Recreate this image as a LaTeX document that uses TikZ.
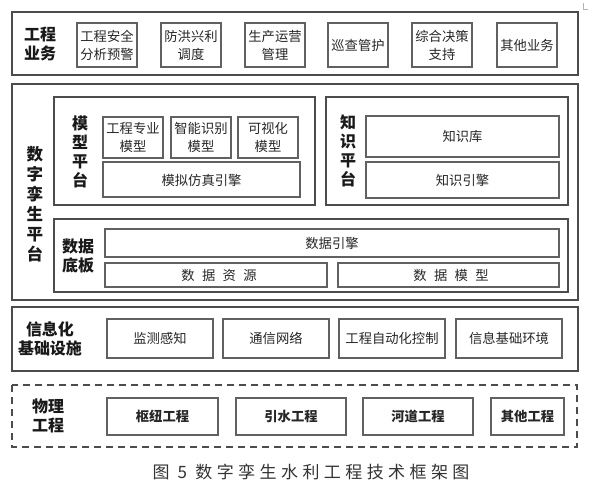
\documentclass[tikz,border=0pt]{standalone}
\usepackage{fontspec}
\setmainfont{Noto Sans CJK SC}
\newfontfamily\capfont[LetterSpace=26]{Noto Sans CJK SC}
\newfontfamily\spfont[LetterSpace=55]{Noto Sans CJK SC}
\definecolor{bx}{rgb}{0.38,0.38,0.38}
\definecolor{ox}{rgb}{0.30,0.30,0.30}
\tikzset{
  outerbox/.style={draw=ox, line width=1.3pt},
  itembox/.style={draw=bx, line width=1.1pt},
  itemtext/.style={font=\fontsize{13.3}{18}\selectfont, align=center, text=black!85},
  boldtext/.style={font=\fontsize{13.3}{18}\selectfont\bfseries, align=center, text=black!85},
  lbl/.style={font=\fontsize{16}{19}\selectfont\bfseries, align=center, text=black!90},
  vlbl/.style={font=\fontsize{16.5}{20}\selectfont\bfseries, align=center, text=black!90}
}
\begin{document}
\begin{tikzpicture}[x=1pt,y=-1pt]
\useasboundingbox (0,0) rectangle (595,491);
% corner mark
\draw[black!30, line width=0.6pt] (583,3) -- (583,9) -- (588,9);

% ===== 工程业务 =====
\draw[outerbox] (12,12) rectangle (578,75);
\node[lbl] (ywlbl) at (40,44) {工程\\业务};
\foreach \x/\t [count=\i] in {77/{工程安全\\分析预警},161/{防洪兴利\\调度},245/{生产运营\\管理},328/{巡查管护},412/{综合决策\\支持},497/{其他业务}}{
  \draw[itembox] (\x,23) rectangle ++(60,44);
  \node[itemtext] (yw\i) at (\x+30,45) {\t};
}

% ===== 数字孪生平台 =====
\draw[outerbox] (12,84) rectangle (578,300);
\node[vlbl] (twlbl) at (35,204) {数\\字\\孪\\生\\平\\台};

% 模型平台
\draw[outerbox, line width=1.1pt] (54,97) rectangle (315,205);
\node[vlbl, font=\fontsize{16}{19}\selectfont\bfseries] (mxlbl) at (80,152) {模\\型\\平\\台};
\draw[itembox] (103,117) rectangle (163,158);
\node[itemtext] (mx1) at (133,137.5) {工程专业\\模型};
\draw[itembox] (171,117) rectangle (231,158);
\node[itemtext] (mx2) at (201,137.5) {智能识别\\模型};
\draw[itembox] (238,117) rectangle (298,158);
\node[itemtext] (mx3) at (268,137.5) {可视化\\模型};
\draw[itembox] (103,162) rectangle (300,197);
\node[itemtext] (mx4) at (201.5,180) {模拟仿真引擎};

% 知识平台
\draw[outerbox, line width=1.1pt] (326,97) rectangle (568,205);
\node[vlbl, font=\fontsize{16}{19}\selectfont\bfseries] (zslbl) at (348,151) {知\\识\\平\\台};
\draw[itembox] (366,116) rectangle (559,157);
\node[itemtext] (zs1) at (462.5,136.5) {知识库};
\draw[itembox] (366,162) rectangle (559,198);
\node[itemtext] (zs2) at (462.5,180) {知识引擎};

% 数据底板
\draw[outerbox, line width=1.1pt] (54,219) rectangle (568,292);
\node[lbl] (sjlbl) at (78,256) {数据\\底板};
\draw[itembox] (105,229) rectangle (559,257);
\node[itemtext] (sj1) at (332,243) {数据引擎};
\draw[itembox] (105,263) rectangle (327,287);
\node[itemtext, font=\fontsize{13.3}{18}\spfont] (sj2) at (219,275) {数据资源};
\draw[itembox] (338,263) rectangle (559,287);
\node[itemtext, font=\fontsize{13.3}{18}\spfont] (sj3) at (451,275) {数据模型};

% ===== 信息化基础设施 =====
\draw[outerbox] (12,307) rectangle (578,371);
\node[lbl] (xxlbl) at (50,339) {信息化\\基础设施};
\foreach \x/\w/\t [count=\i] in {107/106/监测感知,223/106/通信网络,339/106/工程自动化控制,456/106/信息基础环境}{
  \draw[itembox] (\x,319) rectangle ++(\w,39);
  \node[itemtext] (xx\i) at (\x+\w/2,338.5) {\t};
}

% ===== 物理工程 =====
\draw[draw=ox, line width=1.1pt, dash pattern=on 7pt off 5pt] (12,385) rectangle (577,447);
\node[lbl] (wllbl) at (48,416) {物理\\工程};
\foreach \x/\w/\t [count=\i] in {107/111/枢纽工程,236/110/引水工程,363/110/河道工程,491/73/其他工程}{
  \draw[itembox] (\x,398) rectangle ++(\w,37);
  \node[boldtext] (wl\i) at (\x+\w/2,416.5) {\t};
}

% caption
\node[font=\fontsize{17}{19}\capfont, text=black!80] (cap) at (311,472) {图 5 数字孪生水利工程技术框架图};
\end{tikzpicture}
\end{document}
